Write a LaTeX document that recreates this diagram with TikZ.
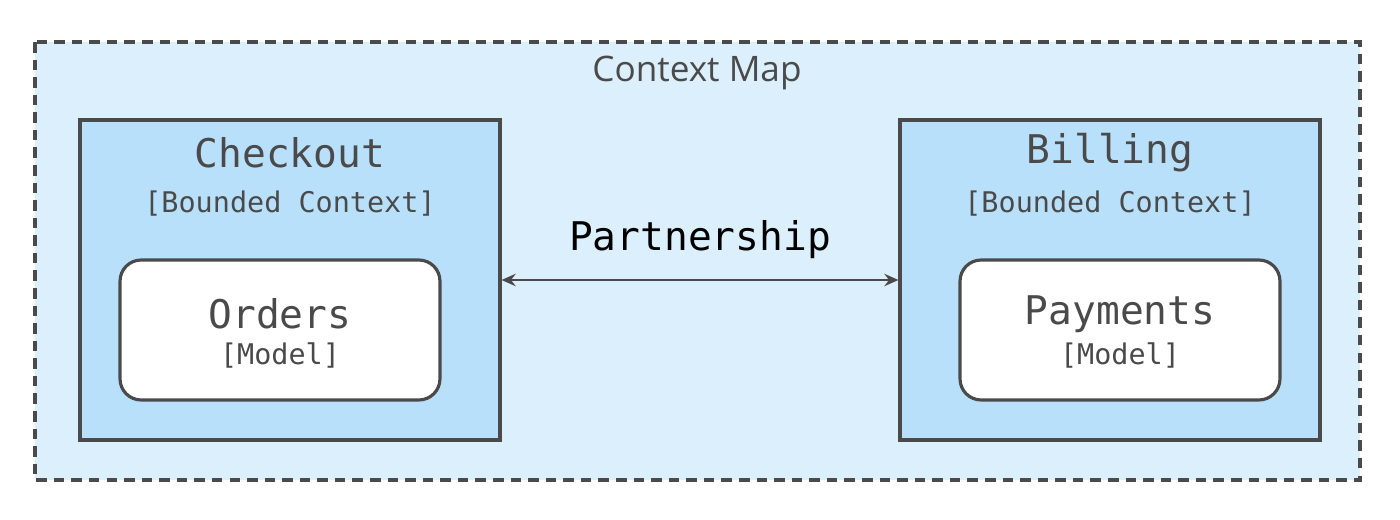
\documentclass[tikz,border=0pt]{standalone}
\usepackage{fontspec}
\setmainfont{Open Sans}
\setmonofont{DejaVu Sans Mono}
\usetikzlibrary{positioning,arrows.meta}
\definecolor{mapfill}{HTML}{DCEFFD}
\definecolor{ctxfill}{HTML}{B9E0FB}
\definecolor{edge}{HTML}{4A4A4A}
\begin{document}
\begin{tikzpicture}[x=0.02cm,y=-0.02cm,
  map/.style={draw=edge, fill=mapfill, line width=1.8pt, dash pattern=on 6pt off 4pt},
  context/.style={draw=edge, fill=ctxfill, line width=1.8pt},
  model/.style={draw=edge, fill=white, line width=1.8pt, rounded corners=12pt},
  arrow/.style={edge, line width=1.6pt, {Stealth[length=8pt,width=7pt]}-{Stealth[length=8pt,width=7pt]}}]

  % Definitions
  \newcommand{\bigtt}{\ttfamily\fontsize{22.5pt}{26pt}\selectfont}
  \newcommand{\smalltt}{\ttfamily\fontsize{16.2pt}{19pt}\selectfont}

  \useasboundingbox (0,0) rectangle (1400,520);
  \draw[map] (35,42) rectangle (1360,480);
  \node (title) [text=edge, font=\fontsize{20pt}{24pt}\selectfont] at (697,73) {Context Map};

  % bounded contexts
  \node (checkout) [context, minimum width=8.4cm, minimum height=6.4cm] at (290,280) {};
  \node (billing) [context, minimum width=8.4cm, minimum height=6.4cm] at (1110,280) {};
  \node [text=edge, font=\bigtt] at (290,153) {Checkout};
  \node [text=edge, font=\smalltt] at (290,204) {[Bounded Context]};
  \node [text=edge, font=\bigtt] at (1110,153) {Billing};
  \node [text=edge, font=\smalltt] at (1110,204) {[Bounded Context]};

  % models
  \node (orders) [model, minimum width=6.4cm, minimum height=2.8cm] at (280,330) {};
  \node (payments) [model, minimum width=6.4cm, minimum height=2.8cm] at (1120,330) {};
  \node [text=edge, font=\bigtt] at (280,314) {Orders};
  \node [text=edge, font=\smalltt] at (280,355) {[Model]};
  \node [text=edge, font=\bigtt] at (1120,314) {Payments};
  \node [text=edge, font=\smalltt] at (1120,355) {[Model]};

  \draw [arrow] (checkout.east) -- node[above=8pt, text=black, font=\bigtt] {Partnership} (billing.west);

\end{tikzpicture}
\end{document}
